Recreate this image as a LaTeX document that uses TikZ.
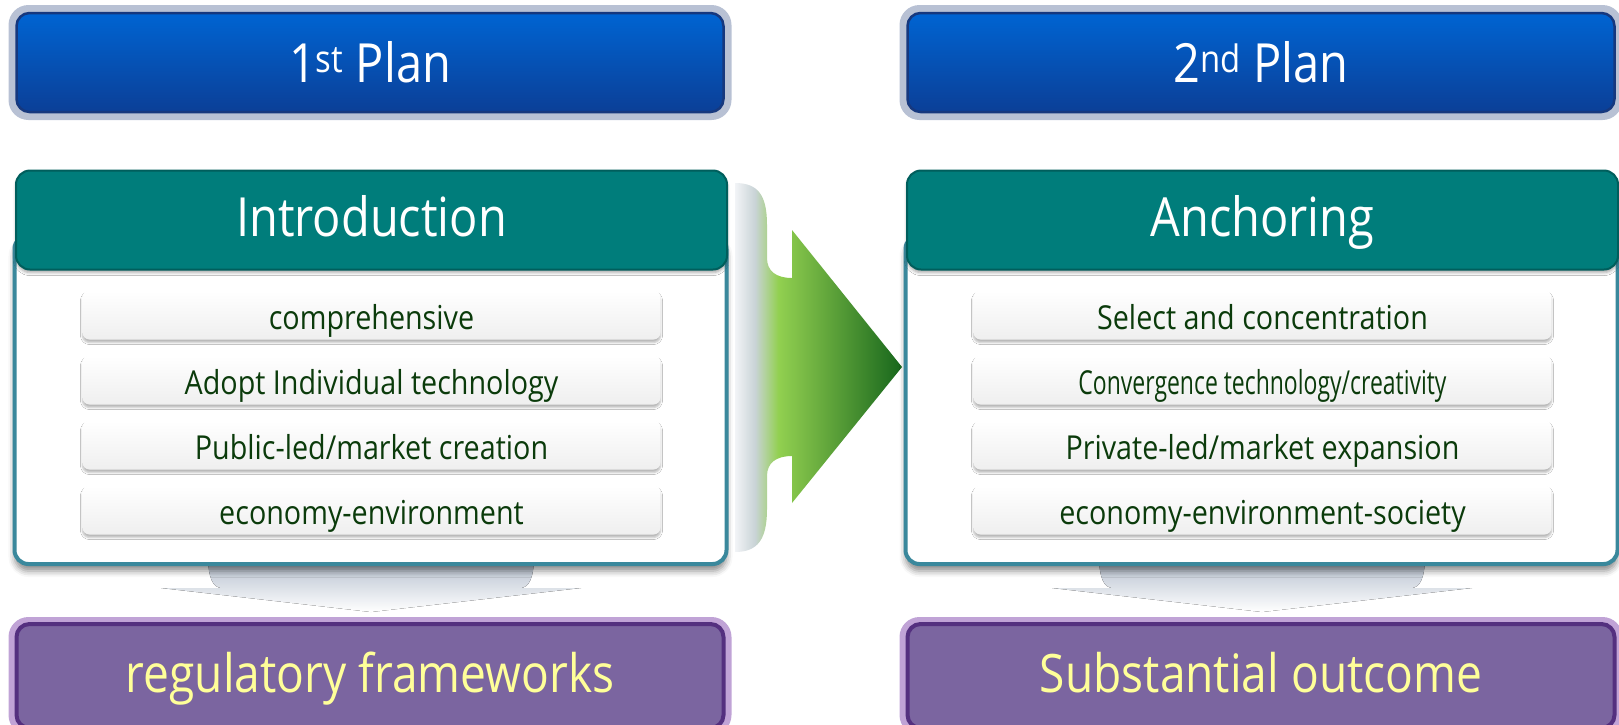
\documentclass[tikz,border=0pt]{standalone}
\usepackage{fontspec}
\setmainfont{Open Sans}[FakeStretch=0.87]
\usetikzlibrary{shadows.blur}

\definecolor{planRim}{HTML}{B8C1D4}
\definecolor{planTop}{HTML}{0064D2}
\definecolor{planBot}{HTML}{0B3F97}
\definecolor{planEdge}{HTML}{16387E}
\definecolor{stageTeal}{HTML}{007D7B}
\definecolor{stageEdge}{HTML}{005E5C}
\definecolor{bodyRim}{HTML}{3A889C}
\definecolor{itemBot}{HTML}{EFEFEF}
\definecolor{itemText}{HTML}{0B3B0B}
\definecolor{resRim}{HTML}{C0A3D6}
\definecolor{resFill}{HTML}{7B65A0}
\definecolor{resEdge}{HTML}{54307F}
\definecolor{resText}{HTML}{FFFF99}
\definecolor{funnelTop}{HTML}{AEB9C9}
\definecolor{arrowPale}{HTML}{F2F4F7}
\definecolor{arrowMist}{HTML}{C9D3D6}
\definecolor{arrowLight}{HTML}{92D050}
\definecolor{arrowDark}{HTML}{17661C}

% left-to-right fade of the transition arrow
\pgfdeclarehorizontalshading{stagearrow}{100bp}{%
  color(0bp)=(arrowPale); color(25bp)=(arrowPale);
  color(31bp)=(arrowMist); color(38bp)=(arrowLight);
  color(75bp)=(arrowDark); color(100bp)=(arrowDark)}

\begin{document}
\begin{tikzpicture}[x=1pt,y=-1pt,
  planframe/.style={fill=planRim, rounded corners=20pt, minimum width=723pt,
    minimum height=115pt, inner sep=0pt},
  planbox/.style={rounded corners=13pt, top color=planTop, bottom color=planBot,
    draw=planEdge, line width=2.5pt, minimum width=707pt, minimum height=99pt,
    inner sep=0pt, text=white, font=\fontsize{54}{60}\selectfont,
    text height=39pt, text depth=0pt},
  stagehead/.style={rounded corners=14pt, fill=stageTeal, draw=stageEdge,
    line width=2pt, minimum width=711pt, minimum height=99pt, inner sep=0pt,
    text=white, font=\fontsize{54}{60}\selectfont, text height=32pt, text depth=0pt,
    blur shadow={shadow xshift=0pt, shadow yshift=-3pt, shadow opacity=35,
      shadow blur radius=3pt}},
  stagebody/.style={rounded corners=14pt, fill=white, draw=bodyRim, line width=4pt,
    minimum width=712pt, minimum height=329pt, inner sep=0pt,
    blur shadow={shadow xshift=0pt, shadow yshift=-7pt, shadow opacity=45,
      shadow blur radius=6pt}},
  itembox/.style={rounded corners=7pt, top color=white, bottom color=itemBot,
    minimum width=578pt, minimum height=49pt, inner sep=0pt, text=itemText,
    font=\fontsize{33}{38}\selectfont, text height=28pt, text depth=0pt,
    blur shadow={shadow xshift=0pt, shadow yshift=-3pt, shadow opacity=28,
      shadow blur radius=2pt}},
  resultframe/.style={fill=resRim, rounded corners=20pt, minimum width=723pt,
    minimum height=118pt, inner sep=0pt},
  resultbox/.style={rounded corners=13pt, fill=resFill, draw=resEdge, line width=4pt,
    minimum width=707pt, minimum height=104pt, inner sep=0pt, text=resText,
    font=\fontsize{53}{60}\selectfont, text height=33pt, text depth=0pt},
  funnel/.style={top color=funnelTop, bottom color=white},
]
\path[use as bounding box, clip] (0,0) rectangle (1619,724);

% ---------- plan headers ----------
\node[planframe] (frameA) at (370,62.5) {};
\node[planbox] (planA) at (frameA.center) {1\textsuperscript{st} Plan};
\node[planframe] (frameB) at (1261,62.5) {};
\node[planbox] (planB) at (frameB.center) {2\textsuperscript{nd} Plan};

% ---------- funnels into the results ----------
\foreach \cx in {371,1262}{
  \fill[funnel] (\cx-163,555) -- (\cx+163,555)
    .. controls (\cx+163,578) and (\cx+158,588) .. (\cx+149,588)
    -- (\cx+210,588) -- (\cx,612) -- (\cx-210,588) -- (\cx-149,588)
    .. controls (\cx-158,588) and (\cx-163,578) .. (\cx-163,555) -- cycle;
}

% ---------- transition arrow ----------
\shade[shading=stagearrow] (735,183) .. controls (758,183) and (767,195) .. (767,225)
  -- (767,258) .. controls (767,271) and (776,278) .. (792,278)
  -- (792,230) -- (902,367) -- (792,503) -- (792,456)
  .. controls (776,456) and (767,463) .. (767,476)
  -- (767,509) .. controls (767,539) and (758,552) .. (735,552) -- cycle;

% ---------- first stage ----------
\node[stagebody] (bodyA) at (370.5,399.5) {};
\node[stagehead] (stageA) at (371.5,220) {Introduction};
\node[itembox] (a1) at (371.5,315) {comprehensive};
\node[itembox] (a2) at (371.5,380) {Adopt Individual technology};
\node[itembox] (a3) at (371.5,445) {Public-led/market creation};
\node[itembox] (a4) at (371.5,510) {economy-environment};

% ---------- second stage ----------
\node[stagebody] (bodyB) at (1261.5,399.5) {};
\node[stagehead] (stageB) at (1262.5,220) {Anchoring};
\node[itembox] (b1) at (1262.5,315) {Select and concentration};
\node[itembox] (b2) at (1262.5,380) {\scalebox{0.8}[1]{Convergence technology/creativity}};
\node[itembox] (b3) at (1262.5,445) {Private-led/market expansion};
\node[itembox] (b4) at (1262.5,510) {economy-environment-society};

% ---------- results ----------
\node[resultframe] (resFrameA) at (370,676) {};
\node[resultbox] (resA) at (resFrameA.center) {regulatory frameworks};
\node[resultframe] (resFrameB) at (1261,676) {};
\node[resultbox] (resB) at (resFrameB.center) {Substantial outcome};
\end{tikzpicture}
\end{document}
